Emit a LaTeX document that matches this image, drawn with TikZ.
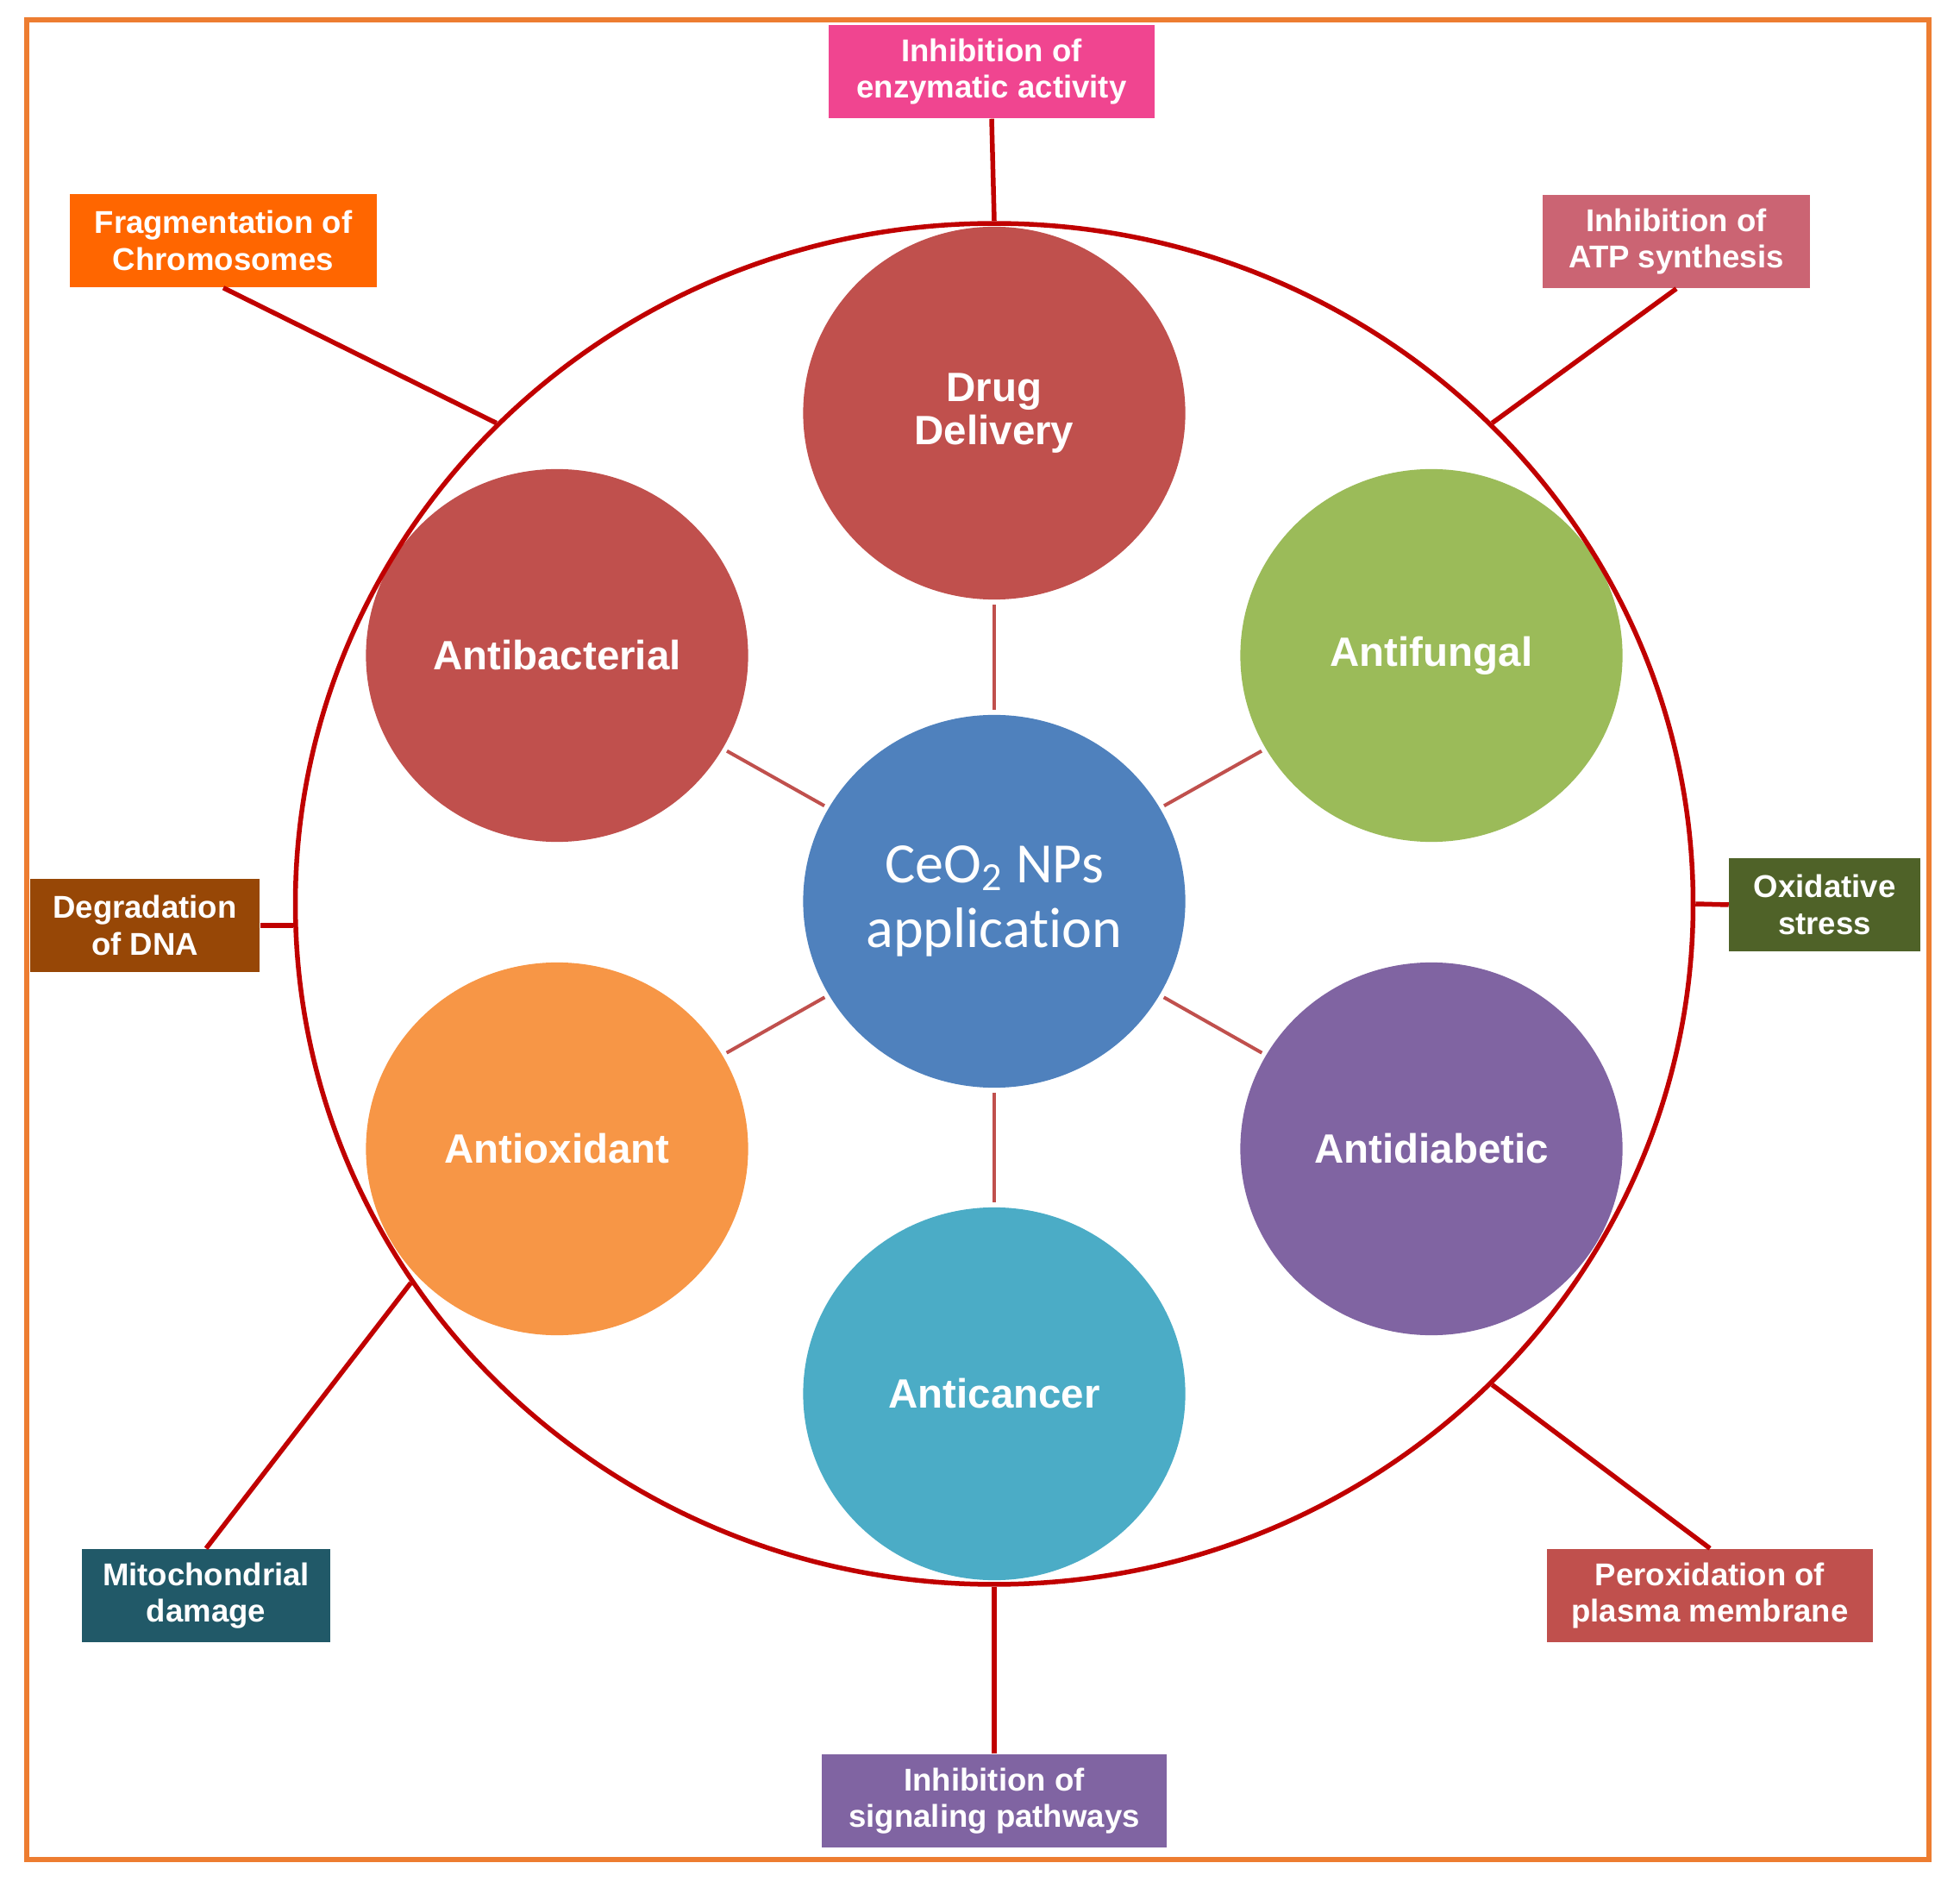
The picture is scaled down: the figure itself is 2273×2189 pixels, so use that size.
\documentclass[tikz,border=0pt]{standalone}
\usepackage{fontspec}
\setmainfont{Liberation Sans}
\newfontfamily\calfont[Ligatures=NoCommon]{Carlito}
\usetikzlibrary{shapes.geometric}
\definecolor{framecol}{HTML}{ED7D31}
\definecolor{linkcol}{HTML}{C00000}
\definecolor{spokecol}{HTML}{C0504D}
\definecolor{redfill}{HTML}{C0504D}
\definecolor{greenfill}{HTML}{9BBB59}
\definecolor{orangefill}{HTML}{F79646}
\definecolor{purplefill}{HTML}{8064A2}
\definecolor{cyanfill}{HTML}{4BACC6}
\definecolor{bluefill}{HTML}{4F81BD}
\definecolor{pinktag}{HTML}{F04590}
\definecolor{fragtag}{HTML}{FF6600}
\definecolor{atptag}{HTML}{CB6473}
\definecolor{dnatag}{HTML}{974706}
\definecolor{oxtag}{HTML}{4F6228}
\definecolor{mitotag}{HTML}{215968}
\tikzset{
	bubble/.style={ellipse, minimum width=4.43cm, minimum height=4.32cm, inner sep=0pt, text=white, align=center, font=\bfseries\fontsize{13.5}{14.2}\selectfont},
	tag/.style={rectangle, minimum height=1.08cm, inner sep=0pt, text=white, align=center, font=\bfseries\fontsize{10.4}{12}\selectfont},
	spoke/.style={draw=spokecol, line width=0.04cm, shorten <=0.05cm, shorten >=0.05cm},
	link/.style={draw=linkcol, line width=0.055cm}
}
\begin{document}
\begin{tikzpicture}[x=0.01cm, y=-0.01cm]
	\useasboundingbox (0,0) rectangle (2273,2189);
	\draw[framecol, line width=0.06cm] (31,23) rectangle (2237,2156);
	\node[bubble, fill=redfill] (drug) at (1153,479) {Drug\\Delivery};
	\node[bubble, fill=redfill] (bact) at (646,760) {Antibacterial};
	\node[bubble, fill=greenfill] (fung) at (1660,760) {Antifungal};
	\node[bubble, fill=orangefill] (oxid) at (646,1332) {Antioxidant};
	\node[bubble, fill=purplefill] (diab) at (1660,1332) {Antidiabetic};
	\node[bubble, fill=cyanfill] (canc) at (1153,1616) {Anticancer};
	\node[bubble, fill=bluefill, font=\calfont\fontsize{18.8}{21.3}\selectfont] (core) at (1153,1045) {CeO\textsubscript{2} NPs\\application};
	\node[ellipse, draw=linkcol, line width=0.055cm, minimum width=16.2cm, minimum height=15.77cm, inner sep=0pt] (ring) at (1153,1048) {};
	\draw[spoke] (core) -- (drug);
	\draw[spoke] (core) -- (bact);
	\draw[spoke] (core) -- (fung);
	\draw[spoke] (core) -- (oxid);
	\draw[spoke] (core) -- (diab);
	\draw[spoke] (core) -- (canc);
	\node[tag, fill=pinktag, minimum width=3.77cm] (enz) at (1150,83) {Inhibition of\\enzymatic activity};
	\node[tag, fill=fragtag, minimum width=3.55cm] (frag) at (259,279) {Fragmentation of\\Chromosomes};
	\node[tag, fill=atptag, minimum width=3.10cm] (atp) at (1944,280) {Inhibition of\\ATP synthesis};
	\node[tag, fill=dnatag, minimum width=2.66cm] (dna) at (168,1073) {Degradation\\of DNA};
	\node[tag, fill=oxtag, minimum width=2.21cm] (ox) at (2116,1049) {Oxidative\\stress};
	\node[tag, fill=mitotag, minimum width=2.88cm] (mito) at (239,1850) {Mitochondrial\\damage};
	\node[tag, fill=redfill, minimum width=3.78cm] (perox) at (1983,1850) {Peroxidation of\\plasma membrane};
	\node[tag, fill=purplefill, minimum width=4.00cm] (sig) at (1153,2088) {Inhibition of\\signaling pathways};
	\draw[link] (enz.south) -- (ring.north);
	\draw[link] (frag.south) -- (ring.136);
	\draw[link] (atp.south) -- (ring.44);
	\draw[link] (dna.east) -- (dna.east -| ring.west);
	\draw[link] (ox.west) -- (ring.east);
	\draw[link] (mito.north) -- (ring.213);
	\draw[link] (perox.north) -- (ring.316);
	\draw[link] (sig.north) -- (ring.south);
\end{tikzpicture}
\end{document}
